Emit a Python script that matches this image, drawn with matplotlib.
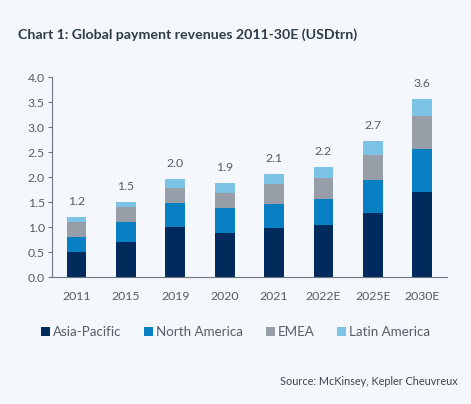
import matplotlib.pyplot as plt
import numpy as np

plt.rcParams['font.family'] = ['Lato', 'DejaVu Sans']

# Data (USD trn)
years = ['2011', '2015', '2019', '2020', '2021', '2022E', '2025E', '2030E']
asia_pacific = [0.50, 0.70, 1.00, 0.89, 0.98, 1.04, 1.28, 1.71]
north_america = [0.30, 0.40, 0.48, 0.50, 0.49, 0.53, 0.67, 0.86]
emea = [0.30, 0.30, 0.31, 0.30, 0.39, 0.41, 0.50, 0.65]
latin_america = [0.10, 0.10, 0.18, 0.19, 0.21, 0.22, 0.28, 0.34]
totals = ['1.2', '1.5', '2.0', '1.9', '2.1', '2.2', '2.7', '3.6']

series = [('Asia-Pacific', asia_pacific, '#002b5c'),
          ('North America', north_america, '#0a80c4'),
          ('EMEA', emea, '#979ea7'),
          ('Latin America', latin_america, '#7dc3e5')]

bg = '#f4f8fc'
txt = '#555c66'

fig = plt.figure(figsize=(4.71, 4.04), dpi=100, facecolor=bg)
ax = fig.add_axes([0.110, 0.314, 0.839, 0.495], facecolor=bg)

x = np.arange(len(years))
bottom = np.zeros(len(years))
for name, vals, col in series:
    ax.bar(x, vals, width=0.4, bottom=bottom, color=col, label=name)
    bottom += np.array(vals)

# totals above the bars
for xi, top, lab in zip(x, bottom, totals):
    ax.annotate(lab, (xi, top), xytext=(0, 7), textcoords='offset points',
                ha='center', va='bottom', fontsize=8.8, color=txt)

ax.set_xlim(-0.5, 7.5)
ax.set_ylim(0, 4.0)
ax.set_yticks(np.arange(0, 4.01, 0.5))
ax.set_yticklabels([f'{v:.1f}' for v in np.arange(0, 4.01, 0.5)])
ax.set_xticks(x)
ax.set_xticklabels(years)

for s in ['top', 'right']:
    ax.spines[s].set_visible(False)
for s in ['left', 'bottom']:
    ax.spines[s].set_color('#6d7580')
    ax.spines[s].set_linewidth(0.8)
ax.tick_params(axis='y', length=3, color='#6d7580', labelsize=8.8,
               labelcolor=txt, pad=2)
ax.tick_params(axis='x', length=0, labelsize=8.8, labelcolor=txt, pad=10)

fig.legend(loc='center', bbox_to_anchor=(0.5, 0.178), ncol=4, frameon=False,
           fontsize=9.6, handlelength=0.7, handleheight=0.7, handletextpad=0.2,
           columnspacing=1.7, labelcolor=txt)

fig.text(0.038, 0.915, 'Chart 1: Global payment revenues 2011-30E (USDtrn)',
         fontsize=10.2, fontweight='bold', color='#2e3a48', va='center')
fig.text(0.972, 0.055, 'Source: McKinsey, Kepler Cheuvreux', fontsize=7.8,
         color='#3c4450', ha='right', va='center')

fig.savefig('out.png', dpi=100, facecolor=bg)
